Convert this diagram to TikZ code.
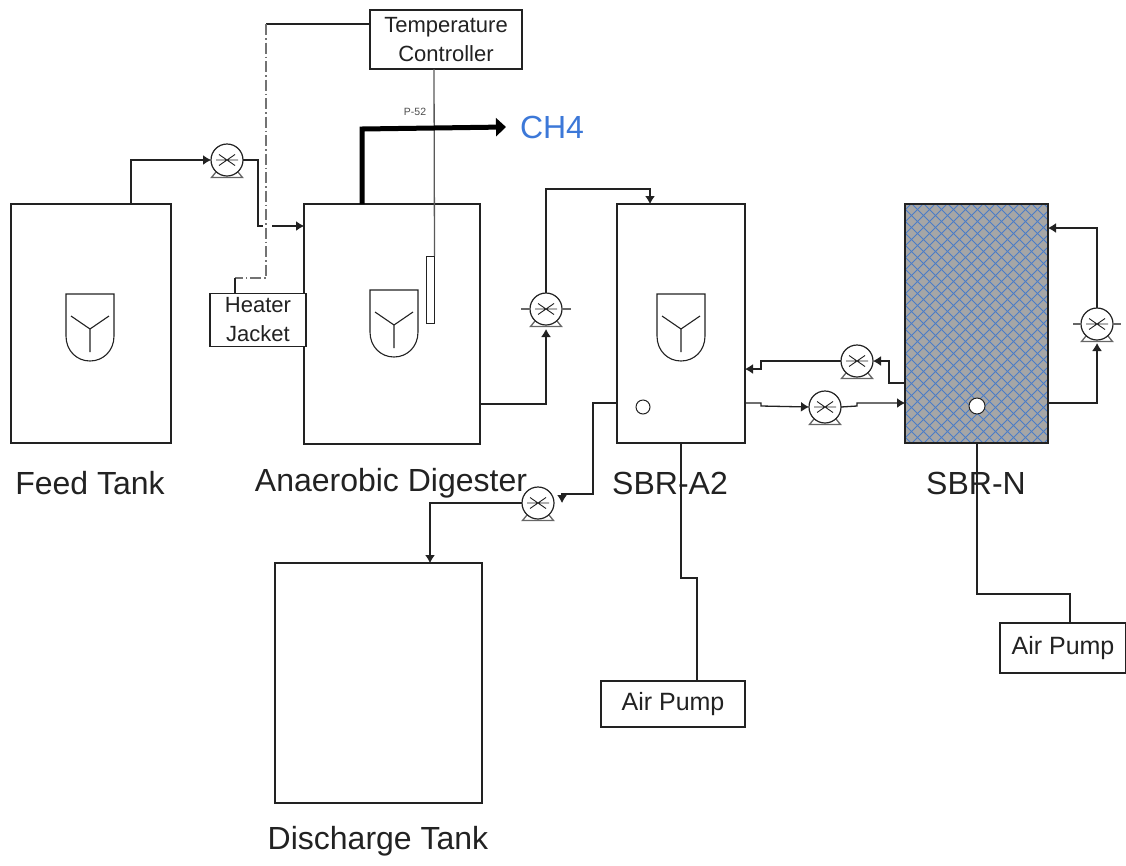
\documentclass[tikz,border=0pt]{standalone}
\usepackage{fontspec}
\setmainfont{Liberation Sans}
\usetikzlibrary{arrows.meta,calc}
\definecolor{inkc}{HTML}{222222}
\definecolor{meshc}{HTML}{4A7CC8}
\definecolor{fillc}{HTML}{A6A6A6}
\definecolor{ch4c}{HTML}{3C78D8}
\tikzset{
  tank/.style={draw=inkc,line width=1.2pt,fill=white,inner sep=0pt,outer sep=0pt},
  boxn/.style={draw=inkc,line width=1.1pt,fill=white,inner sep=0pt,outer sep=0pt,align=center,font=\fontsize{22}{29}\selectfont,text=inkc},
  airbox/.style={boxn,font=\fontsize{25}{30}\selectfont},
  lab/.style={font=\fontsize{32}{38}\selectfont,text=inkc,inner sep=0pt},
  pipe/.style={draw=inkc,line width=1.3pt},
  flow/.style={pipe,-{Latex[length=8pt,width=10pt]}},
  ctrl/.style={draw=black!65,line width=1.3pt},
  dashdot/.style={draw=black!55,line width=1.3pt,dash pattern=on 11pt off 3pt on 1.5pt off 3pt},
  pumpc/.style={circle,draw=inkc,line width=1.2pt,fill=white,minimum size=32pt,inner sep=0pt,outer sep=0pt},
  pumpx/.style={draw=inkc,line width=.9pt},
  pumpf/.style={draw=black!60,line width=1.3pt},
  impel/.style={draw=inkc,line width=1.1pt},
}
\newcommand{\pumpsym}[3]{%
  \begin{scope}[shift={(#2,#3)}]
    \draw[pumpf] (-11,12)--(-15.5,17.5)--(15.5,17.5)--(11,12);
    \node[pumpc] (#1) at (0,0) {};
    \draw[pumpx] (-11,0)--(11,0) (-8,-5.5)--(8,5.5) (-8,5.5)--(8,-5.5);
  \end{scope}}
\newcommand{\impeller}[2]{%
  \begin{scope}[shift={(#1,#2)}]
    \draw[impel] (-24,0)--(24,0)--(24,42) .. controls (24,57) and (13,67) .. (0,67) .. controls (-13,67) and (-24,57) .. (-24,42) -- cycle;
    \draw[impel] (-19,22)--(0,35)--(19,22) (0,35)--(0,58);
  \end{scope}}
\begin{document}
\begin{tikzpicture}[x=1pt,y=-1pt]
\useasboundingbox (0,0) rectangle (1126,865);
% labels
\node[lab] (lfeed) at (90,483) {Feed Tank};
\node[lab] (lad) at (391,483) {Anaerobic Digester};
\node[lab] (la2) at (670,483) {SBR-A2};
\node[lab] (ln) at (976,483) {SBR-N};
\node[lab] (ldis) at (378,841) {Discharge Tank};
\node[font=\fontsize{32}{38}\selectfont,text=ch4c,inner sep=0pt] (lch4) at (552,127) {CH4};
\node[font=\fontsize{10.5}{12}\selectfont,text=black!70,inner sep=0pt] (lp) at (415,112) {P-52};
% tanks
\node[tank,minimum width=160pt,minimum height=239pt] (feed) at (91,323.5) {};
\node[tank,minimum width=176pt,minimum height=240pt] (ad) at (392,324) {};
\node[tank,minimum width=128pt,minimum height=239pt] (a2) at (681,323.5) {};
\node[tank,fill=fillc,minimum width=143pt,minimum height=239pt] (n) at (976.5,323.5) {};
\node[tank,minimum width=207pt,minimum height=240pt] (dis) at (378.5,683) {};
\begin{scope}
  \clip (905,204) rectangle (1048,443);
  \foreach \c in {660,672,...,1060} {
    \draw[meshc,line width=.8pt] (\c,204)--(\c+239,443);
    \draw[meshc,line width=.8pt] (\c+239,204)--(\c,443);
  }
\end{scope}
\draw[draw=inkc,line width=1.4pt] (n.north west) rectangle (n.south east);
\node[circle,draw=inkc,fill=white,line width=1pt,minimum size=16pt,inner sep=0pt] (hn) at (977,406) {};
\node[circle,draw=inkc,fill=white,line width=1pt,minimum size=14pt,inner sep=0pt] (ha) at (643,407) {};
\impeller{90}{294}
\impeller{394}{290}
\impeller{681}{294}
% control boxes
\node[boxn,minimum width=152pt,minimum height=59pt] (tc) at (446,39.5) {Temperature\\Controller};
\node[boxn,minimum width=96pt,minimum height=53pt] (hj) at (258,320) {Heater\\Jacket};
\node[airbox,minimum width=144pt,minimum height=46pt] (ap1) at (673,704) {Air Pump};
\node[airbox,minimum width=126pt,minimum height=50pt] (ap2) at (1063,648) {Air Pump};
\node[draw=inkc,line width=1pt,fill=white,inner sep=0pt,minimum width=8pt,minimum height=67pt] (probe) at (430,290) {};
% pumps
\pumpsym{p1}{227}{160}
\pumpsym{p2}{546}{309}
\pumpsym{p3}{538}{503}
\pumpsym{p4}{857}{361}
\pumpsym{p5}{825}{407}
\pumpsym{p6}{1097}{324}
% stubs of the two upright pumps
\draw[pumpf] (p2.west)--++(-9,0) (p2.east)--++(9,0);
\draw[pumpf] (p6.west)--++(-8,0) (p6.east)--++(8,0);
% control lines
\coordinate (dc1) at (266,24);
\coordinate (dc2) at (266,278);
\coordinate (dc3) at (235,278);
\draw[ctrl,draw=inkc] (tc.west |- dc1) -- (dc1);
\draw[dashdot] (dc1) -- (dc2) -- (dc3);
\draw[ctrl,draw=inkc] (dc3) -- ($(hj.north west)+(25,0)$);
\draw[ctrl] ($(tc.south)+(-12,0)$) -- ($(probe.north east)$);
% thick gas line
\draw[line width=5pt,-{Triangle[length=10pt,width=18pt]},line join=miter] ($(ad.north west)+(58,0)$) -- (362,129) -- (lch4.west -| 506,129);
% feed
\draw[flow] ($(feed.north west)+(120,0)$) -- (131,160) -- (p1.west);
\draw[pipe] (p1.east) -- (258,160) -- (258,226) -- (263,226);
\draw[flow] (272,226) -- ($(ad.north west)+(0,22)$);
% digester to SBR-A2
\draw[flow] ($(ad.south east)+(0,-40)$) -- (546,404) -- (546,329);
\draw[flow] (p2.north) -- (546,189) -- (650,189) -- ($(a2.north west)+(33,0)$);
% SBR-A2 discharge
\draw[flow] ($(a2.south west)+(0,-40)$) -- (593,403) -- (593,494) -- (562,494) -- (562,503);
\draw[flow] (p3.west) -- (430,503) -- ($(dis.north west)+(155,0)$);
% SBR-A2 air
\draw[pipe] (a2.south) -- (681,578) -- (697,578) -- ($(ap1.north)+(24,0)$);
% SBR-N air
\draw[pipe] ($(n.south)+(0.5,0)$) -- (977,594) -- (1070,594) -- ($(ap2.north)+(7,0)$);
% recycle N to A2
\draw[flow] ($(n.south west)+(0,-60)$) -- (889,383) -- (889,361) -- (p4.east);
\draw[flow] (p4.west) -- (761,361) -- (761,369) -- ($(a2.south east)+(0,-74)$);
% forward A2 to N
\draw[flow] ($(a2.south east)+(0,-40)$) -- (761,403) -- (761,406) -- (p5.west);
\draw[flow] (p5.east) -- (857,406) -- (857,403) -- ($(n.south west)+(0,-40)$);
% N internal recycle
\draw[flow] ($(n.south east)+(0,-40)$) -- (1097,403) -- (1097,343);
\draw[flow] (p6.north) -- (1097,228) -- ($(n.north east)+(0,24)$);
\end{tikzpicture}
\end{document}
